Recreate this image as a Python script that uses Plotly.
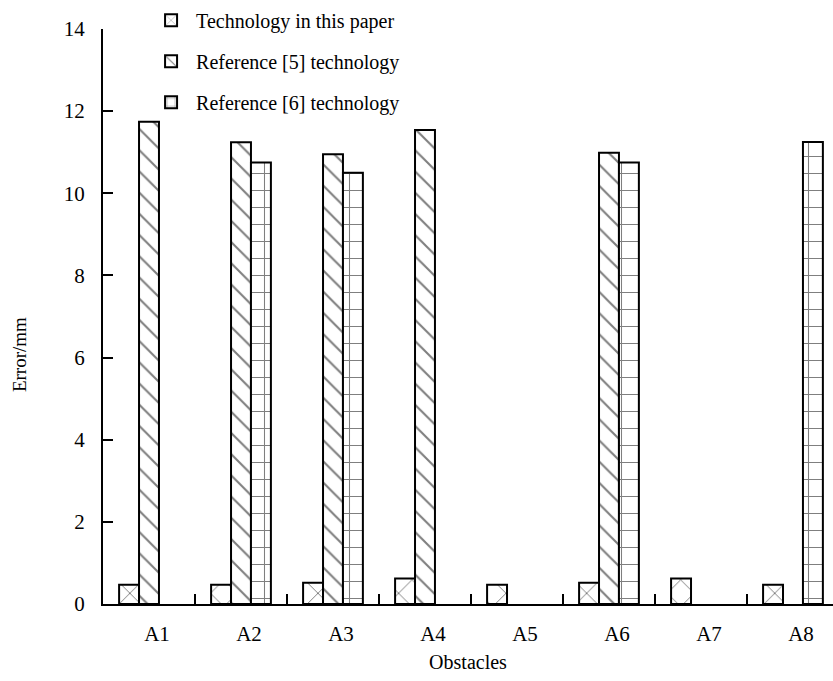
import plotly.graph_objects as go

# Obstacle categories and measured error (mm) for each technique
obstacles = ["A1", "A2", "A3", "A4", "A5", "A6", "A7", "A8"]
this_paper = [0.47, 0.47, 0.52, 0.62, 0.47, 0.52, 0.62, 0.47]
reference_5 = [11.74, 11.24, 10.95, 11.54, None, 10.99, None, None]
reference_6 = [None, 10.75, 10.50, None, None, 10.75, None, 11.25]

series_names = [
    "Technology in this paper",
    "Reference [5] technology",
    "Reference [6] technology",
]
y_ticks = [0, 2, 4, 6, 8, 10, 12, 14]

SERIF = "Liberation Serif, Times New Roman, serif"

patterns = [
    dict(shape="x", size=19, solidity=0.1, fgcolor="black", bgcolor="white"),
    dict(shape="\\", size=15, solidity=0.14, fgcolor="black", bgcolor="white"),
    dict(shape="+", size=17, solidity=0.12, fgcolor="black", bgcolor="white"),
]

fig = go.Figure()
for i, (name, vals) in enumerate(zip(series_names, [this_paper, reference_5, reference_6])):
    fig.add_trace(
        go.Bar(
            x=obstacles,
            y=vals,
            name=name,
            legendgroup=f"g{i}",
            marker=dict(
                color="white",
                pattern=patterns[i],
                line=dict(color="black", width=2),
            ),
        )
    )

# Vertical axis title, placed along the lower half of the axis
fig.add_annotation(
    text="Error/mm",
    textangle=-90,
    xref="paper",
    yref="paper",
    x=-0.115,
    y=0.433,
    xanchor="center",
    yanchor="middle",
    showarrow=False,
    font=dict(family=SERIF, size=19, color="black"),
)

fig.update_layout(
    width=833,
    height=681,
    margin=dict(l=103, r=0, t=29, b=77),
    paper_bgcolor="white",
    plot_bgcolor="white",
    barmode="group",
    bargap=0.35,
    bargroupgap=0,
    font=dict(family=SERIF, size=20, color="black"),
    showlegend=True,
    legend=dict(
        x=0.059,
        y=1.049,
        xanchor="left",
        yanchor="top",
        bgcolor="rgba(0,0,0,0)",
        font=dict(family=SERIF, size=20, color="black"),
        traceorder="grouped",
        tracegroupgap=12,
        itemwidth=40,
    ),
    xaxis=dict(
        type="category",
        range=[-0.5, 7.435],
        showline=True,
        linecolor="black",
        linewidth=2,
        ticks="inside",
        tickson="boundaries",
        ticklen=10,
        tickwidth=2,
        tickcolor="black",
        tickfont=dict(family=SERIF, size=21),
        ticklabelstandoff=10,
        ticklabelshift=8,
        showgrid=False,
        zeroline=False,
        title=dict(text="Obstacles", font=dict(family=SERIF, size=20), standoff=10),
    ),
    yaxis=dict(
        range=[0, 14],
        tickvals=y_ticks,
        showline=True,
        linecolor="black",
        linewidth=2,
        ticks="inside",
        ticklen=10,
        tickwidth=2,
        tickcolor="black",
        tickfont=dict(family=SERIF, size=21),
        ticklabelstandoff=12,
        showgrid=False,
        zeroline=False,
    ),
)

fig.write_html("out.html")
